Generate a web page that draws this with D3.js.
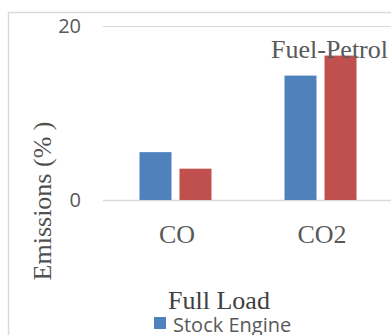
<!DOCTYPE html>
<html lang="en">
<head>
    <meta charset="UTF-8">
    <title>Fuel-Petrol Emissions</title>
    <script src="https://d3js.org/d3.v7.min.js"></script>
    <style>
        body { margin: 0; background: #fff; }
        svg { display: block; }
    </style>
</head>
<body>
    <div id="chart"></div>

    <script>
        // data
        var categories = ["CO", "CO2"];
        var seriesNames = ["Stock Engine", "Modified Engine"];
        var stockValues = [5.5, 14.3];
        var modifiedValues = [3.6, 16.6];
        var yTicks = [0, 20];

        var colors = ["#4F81BD", "#C0504D"];

        var width = 391, height = 335;
        var svg = d3.select("#chart")
            .append("svg")
            .attr("width", width)
            .attr("height", height);

        // chart border (runs off the right and bottom edge)
        svg.append("rect")
            .attr("x", 8.5)
            .attr("y", 12.5)
            .attr("width", 500)
            .attr("height", 500)
            .attr("fill", "none")
            .attr("stroke", "#d9d9d9")
            .attr("stroke-width", 1.5);

        var x0 = d3.scaleBand()
            .domain(categories)
            .range([103, 393]);

        var groupW = 72;
        var x1 = d3.scaleBand()
            .domain(seriesNames)
            .range([(x0.bandwidth() - groupW) / 2, (x0.bandwidth() + groupW) / 2])
            .paddingInner(0.2);

        var y = d3.scaleLinear()
            .domain([0, 20])
            .range([200, 26]);

        // gridlines
        svg.selectAll(".grid")
            .data(yTicks)
            .enter()
            .append("line")
            .attr("x1", 103)
            .attr("x2", 393)
            .attr("y1", d => y(d) + 0.5)
            .attr("y2", d => y(d) + 0.5)
            .attr("stroke", "#d9d9d9")
            .attr("stroke-width", d => d === 0 ? 1.5 : 1);

        // y tick labels
        svg.selectAll(".ytick")
            .data(yTicks)
            .enter()
            .append("text")
            .attr("x", 81)
            .attr("y", d => y(d))
            .attr("dy", "0.36em")
            .attr("text-anchor", "end")
            .attr("font-family", "'Open Sans', sans-serif")
            .attr("font-size", 20)
            .attr("fill", "#595959")
            .text(d => d);

        // bars
        var rows = categories.map((c, i) => ({
            cat: c,
            vals: [stockValues[i], modifiedValues[i]]
        }));

        var groups = svg.selectAll(".grp")
            .data(rows)
            .enter()
            .append("g")
            .attr("transform", d => "translate(" + x0(d.cat) + ",0)");

        groups.selectAll("rect")
            .data(d => d.vals.map((v, j) => ({ name: seriesNames[j], v: v, j: j })))
            .enter()
            .append("rect")
            .attr("x", d => x1(d.name))
            .attr("y", d => y(d.v))
            .attr("width", x1.bandwidth())
            .attr("height", d => y(0) - y(d.v))
            .attr("fill", d => colors[d.j]);

        // category labels
        svg.selectAll(".xlab")
            .data(categories)
            .enter()
            .append("text")
            .attr("x", d => x0(d) + x0.bandwidth() / 2 + 1.5)
            .attr("y", 243)
            .attr("text-anchor", "middle")
            .attr("font-family", "'Liberation Serif', 'Times New Roman', serif")
            .attr("font-size", 26)
            .attr("fill", "#595959")
            .text(d => d);

        // title
        svg.append("text")
            .attr("x", 329.5)
            .attr("y", 58)
            .attr("text-anchor", "middle")
            .attr("font-family", "'Liberation Serif', 'Times New Roman', serif")
            .attr("font-size", 26)
            .attr("fill", "#595959")
            .text("Fuel-Petrol");

        // y axis title
        svg.append("text")
            .attr("transform", "translate(51,201) rotate(-90)")
            .attr("text-anchor", "middle")
            .attr("font-family", "'Liberation Serif', 'Times New Roman', serif")
            .attr("font-size", 26)
            .attr("fill", "#505050")
            .attr("xml:space", "preserve")
            .text("Emissions (% )");

        // x axis title
        svg.append("text")
            .attr("x", 219)
            .attr("y", 309)
            .attr("text-anchor", "middle")
            .attr("font-family", "'Liberation Serif', 'Times New Roman', serif")
            .attr("font-size", 26)
            .attr("fill", "#404040")
            .text("Full Load");

        // legend: only the first entry fits in the visible area
        var legend = svg.selectAll(".leg")
            .data(seriesNames.slice(0, 1))
            .enter()
            .append("g")
            .attr("transform", "translate(154,317)");

        legend.append("rect")
            .attr("width", 12)
            .attr("height", 12)
            .attr("fill", (d, i) => colors[i]);

        legend.append("text")
            .attr("x", 19)
            .attr("y", 15)
            .attr("font-family", "'Open Sans', sans-serif")
            .attr("font-size", 20)
            .attr("fill", "#595959")
            .text(d => d);
    </script>
</body>
</html>
